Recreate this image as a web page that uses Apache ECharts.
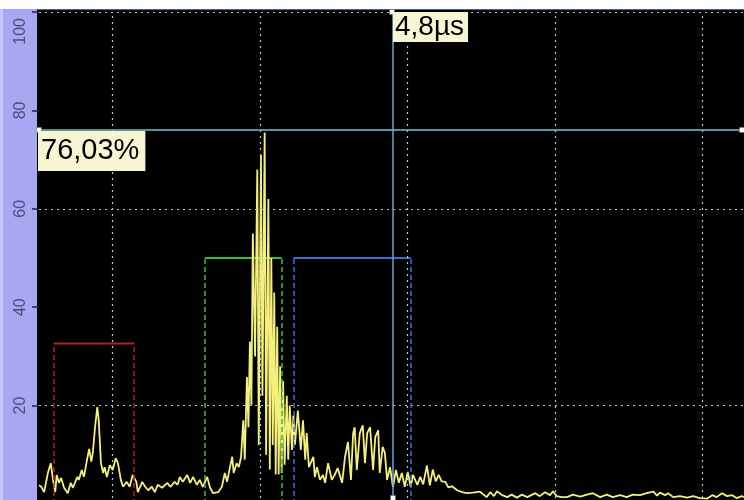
<!DOCTYPE html>
<html><head><meta charset="utf-8">
<script src="https://cdn.jsdelivr.net/npm/echarts@6/dist/echarts.min.js"></script>
<style>html,body{margin:0;padding:0;background:#000}#c{width:744px;height:500px}</style>
</head><body><div id="c"></div><script>
// ---- data ----
const yTicks = [0, 20, 40, 60, 80, 100];
const gridTimesUs = [1, 3, 5, 7, 9];
const gridAmps = [20, 60, 100];
const xMaxUs = 9.56;

const timeUs = [
0.00,0.03,0.07,0.12,0.16,0.19,0.22,0.24,0.27,0.30,0.34,0.39,0.43,0.46,0.52,0.54,0.58,0.61,0.65,0.68,
0.71,0.73,0.76,0.79,0.81,0.84,0.87,0.89,0.92,0.96,1.00,1.04,1.07,1.11,1.14,1.19,1.23,1.27,1.32,1.34,
1.40,1.44,1.48,1.53,1.57,1.61,1.67,1.74,1.78,1.84,1.88,1.91,1.95,2.01,2.05,2.09,2.14,2.18,2.22,2.28,
2.32,2.36,2.43,2.48,2.52,2.55,2.59,2.62,2.64,2.68,2.71,2.74,2.77,2.79,2.82,2.84,2.86,2.88,2.90,2.93,
2.96,2.98,3.01,3.03,3.06,3.08,3.11,3.13,3.15,3.17,3.19,3.21,3.23,3.25,3.27,3.29,3.31,3.33,3.36,3.38,
3.40,3.43,3.45,3.47,3.51,3.55,3.58,3.61,3.63,3.66,3.72,3.74,3.77,3.81,3.85,3.88,3.92,3.97,4.01,4.05,
4.11,4.15,4.19,4.23,4.26,4.28,4.31,4.35,4.39,4.42,4.45,4.49,4.53,4.56,4.60,4.62,4.66,4.69,4.72,4.76,
4.80,4.84,4.88,4.92,4.96,5.00,5.04,5.07,5.13,5.17,5.21,5.26,5.30,5.34,5.38,5.42,5.46,5.51,5.55,5.60,
5.67,5.74,5.80,5.88,5.98,6.07,6.12,6.17,6.21,6.28,6.35,6.41,6.48,6.55,6.62,6.73,6.79,6.86,6.93,6.97,
7.02,7.09,7.16,7.24,7.34,7.43,7.51,7.61,7.70,7.78,7.88,7.97,8.05,8.15,8.24,8.33,8.38,8.42,8.49,8.53,
8.60,8.69,8.79,8.87,8.96,9.06,9.13,9.19,9.26,9.33,9.40,9.46,9.53,9.56
];
const amplitude = [
3.8,3.5,2.4,6.3,8.3,4.9,2.4,5.9,4.3,5.3,3.3,2.2,4.3,3.3,5.5,4.9,6.9,5.5,8.9,11.2,
8.6,10.5,15.6,19.7,17.0,8.3,6.3,7.5,5.5,7.9,6.9,9.3,8.3,4.9,3.5,4.5,3.5,5.9,4.5,2.4,
4.5,3.5,2.8,3.5,2.4,3.9,3.3,4.3,3.5,4.5,3.9,5.5,4.5,5.9,4.3,5.5,3.9,4.9,3.5,5.5,
3.3,2.2,2.4,3.5,6.3,4.5,7.5,9.6,6.3,8.3,7.5,9.6,17.0,9.0,25.8,15.6,33.0,20.0,55.0,30.0,
68.0,12.0,71.0,22.0,75.5,10.0,62.0,7.0,50.0,12.0,43.0,6.0,36.0,6.0,28.0,6.3,25.0,8.0,22.0,9.0,
20.0,11.0,18.0,12.0,19.0,11.0,17.0,9.0,14.4,7.5,9.6,5.5,7.5,4.9,5.9,4.3,8.3,4.9,5.9,7.3,
4.3,9.6,12.6,4.9,14.4,15.6,6.9,14.4,16.0,8.3,14.4,15.6,6.9,13.6,15.0,6.3,11.6,10.4,4.9,7.5,
3.5,6.9,4.3,6.3,3.5,6.5,3.5,5.9,3.9,5.5,4.0,7.8,3.8,7.0,4.6,5.9,4.6,4.5,3.4,3.6,
2.8,2.4,2.2,2.3,2.5,1.4,2.4,1.6,2.6,1.8,1.4,1.9,1.3,1.9,1.4,2.2,1.6,2.4,1.8,2.6,
1.6,1.4,1.4,1.9,1.5,1.9,2.2,1.4,1.9,1.4,1.8,1.4,1.9,1.8,2.2,2.5,1.7,2.3,1.8,2.2,
1.4,1.6,1.3,1.6,1.2,1.1,1.8,1.4,2.2,1.6,1.8,1.2,1.6,1.4
];

const gateNames = ['Gate A', 'Gate B', 'Gate C'];
const gateStartUs = [0.20, 2.25, 3.45];
const gateEndUs = [1.29, 3.29, 5.04];
const gateLevel = [32.6, 50, 50];

const cursorTimeUs = 4.8;
const cursorAmp = 76.03;
const cursorTimeText = '4,8µs';
const cursorAmpText = '76,03%';

// ---- styles ----
const gateColors = ['#b02424', '#3cbc3c', '#3f6fd6'];
const FONT = '"Liberation Sans", Arial, sans-serif';

const chart = echarts.init(document.getElementById('c'), null, {renderer: 'canvas'});

const series = [];
// dotted grid
series.push({
  type: 'line', data: [], silent: true, z: 1,
  markLine: {
    silent: true, symbol: ['none', 'none'], label: {show: false},
    lineStyle: {color: '#a6d2cc', width: 1.2, type: [2, 4]},
    data: gridTimesUs.map(v => ({xAxis: v})).concat(gridAmps.map(v => ({yAxis: v})))
  }
});
// gates
gateNames.forEach((name, i) => {
  series.push({
    name, type: 'line', symbol: 'none', silent: true, z: 3,
    data: [[gateStartUs[i], gateLevel[i]], [gateEndUs[i], gateLevel[i]]],
    lineStyle: {color: gateColors[i], width: 2},
    markLine: {
      silent: true, symbol: ['none', 'none'], label: {show: false},
      lineStyle: {color: gateColors[i], width: 1.5, type: [5, 3]},
      data: [
        [{coord: [gateStartUs[i], 0]}, {coord: [gateStartUs[i], gateLevel[i]]}],
        [{coord: [gateEndUs[i], 0]}, {coord: [gateEndUs[i], gateLevel[i]]}]
      ]
    }
  });
});
// signal
series.push({
  name: 'A-Scan', type: 'line', symbol: 'none', silent: true, z: 4,
  data: timeUs.map((t, i) => [t, amplitude[i]]),
  lineStyle: {color: '#f4f07a', width: 1.8}
});
// cursors
series.push({
  type: 'line', data: [], silent: true, z: 5,
  markLine: {
    silent: true, symbol: ['none', 'none'], label: {show: false},
    data: [
      {yAxis: cursorAmp, lineStyle: {color: '#78c2cc', width: 1.5, type: 'solid'}},
      {xAxis: cursorTimeUs, lineStyle: {color: '#64a6dc', width: 1.5, type: 'solid'}}
    ]
  },
  markPoint: {
    silent: true, symbol: 'rect', symbolSize: 5,
    itemStyle: {color: '#ffffff', borderColor: '#666', borderWidth: 0.5},
    label: {show: false},
    data: [
      {coord: [0, cursorAmp]}, {coord: [xMaxUs, cursorAmp], symbolOffset: [-2, 0]},
      {coord: [cursorTimeUs, 100], symbolOffset: [-1, 0]}, {coord: [cursorTimeUs, 0], symbolOffset: [0, -6]}
    ]
  }
});
// cursor readouts
series.push({
  type: 'scatter', symbolSize: 0, silent: true, z: 6,
  itemStyle: {opacity: 1},
  data: [
    {value: [0, cursorAmp], label: {show: true, formatter: cursorAmpText, position: [-1, 1],
      align: 'left', verticalAlign: 'top', fontSize: 29, lineHeight: 32, fontFamily: FONT,
      color: '#000', backgroundColor: '#f8f6d2', padding: [4, 6, 4, 3], opacity: 1}},
    {value: [cursorTimeUs, 100], label: {show: true, formatter: cursorTimeText, position: [0, 0],
      align: 'left', verticalAlign: 'top', fontSize: 28, lineHeight: 28, fontFamily: FONT,
      color: '#000', backgroundColor: '#f8f6d2', padding: [1, 4, 1, 2], opacity: 1}}
  ]
});

chart.setOption({
  animation: false,
  backgroundColor: '#000000',
  graphic: [
    {type: 'rect', z: -10, shape: {x: 0, y: 0, width: 744, height: 9}, style: {fill: '#ffffff'}},
    {type: 'rect', z: -10, shape: {x: 0, y: 9, width: 744, height: 1}, style: {fill: '#4a5a9a'}},
    {type: 'rect', z: -9, shape: {x: 0, y: 9, width: 37, height: 491}, style: {fill: '#a8a8f2'}},
    {type: 'rect', z: -9, shape: {x: 0, y: 9, width: 3, height: 491}, style: {fill: '#c6c6fa'}}
  ],
  grid: {left: 39, right: 0, top: 12, bottom: -4, containLabel: false, outerBoundsMode: 'none'},
  xAxis: {type: 'value', min: 0, max: xMaxUs, show: false},
  yAxis: {
    type: 'value', min: yTicks[0], max: yTicks[yTicks.length - 1], interval: 20,
    splitLine: {show: false}, axisLine: {show: false},
    axisTick: {show: true, length: 7, lineStyle: {color: '#1e1e4a', width: 1.5}},
    axisLabel: {rotate: 90, margin: 10, fontSize: 16, color: '#4c4c7c', fontFamily: FONT,
      alignMaxLabel: 'right',
      formatter: v => v === yTicks[yTicks.length - 1] ? '{m|' + v + '}' : String(v),
      rich: {m: {fontSize: 16, color: '#4c4c7c', fontFamily: FONT, padding: [0, 6, 0, 0]}}}
  },
  series
});
</script></body></html>
